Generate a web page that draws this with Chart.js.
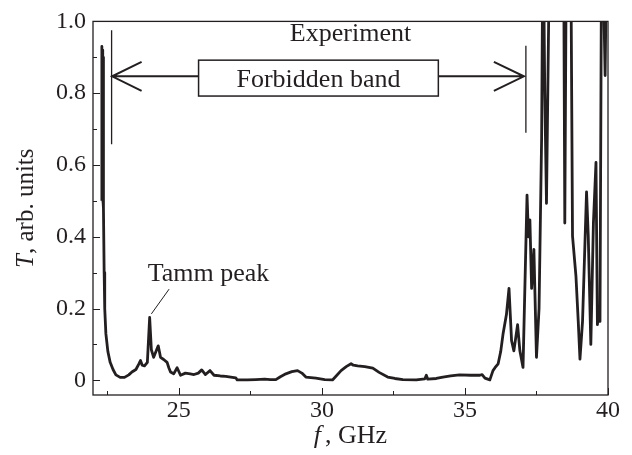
<!DOCTYPE html>
<html>
<head>
<meta charset="utf-8">
<script src="https://cdn.jsdelivr.net/npm/chart.js@4.4.1/dist/chart.umd.min.js"></script>
<style>
  html, body { margin: 0; padding: 0; background: #fff; }
  #wrap { width: 632px; height: 455px; }
</style>
</head>
<body>
<div id="wrap"><canvas id="spectrum" width="632" height="455"></canvas></div>
<script>
// Transmission spectrum: frequency (GHz) and transmission (arb. units)
const freqs = [
    22.30, 22.31, 22.33, 22.34, 22.35, 22.36, 22.37, 22.39, 22.41, 22.45,
    22.52, 22.60, 22.70, 22.80, 22.95, 23.10, 23.25, 23.36, 23.50, 23.60,
    23.66, 23.72, 23.80, 23.90, 23.98, 24.04, 24.12, 24.20, 24.28, 24.36,
    24.47, 24.59, 24.65, 24.71, 24.82, 24.94, 25.06, 25.23, 25.40, 25.53,
    25.68, 25.80, 25.93, 26.09, 26.23, 26.45, 26.64, 26.99, 27.04, 27.40,
    27.69, 28.00, 28.20, 28.39, 28.55, 28.74, 28.95, 29.15, 29.30, 29.44,
    29.79, 30.10, 30.37, 30.50, 30.67, 30.85, 31.02, 31.10, 31.25, 31.50,
    31.78, 32.00, 32.30, 32.55, 32.83, 33.30, 33.60, 33.65, 33.70, 34.00,
    34.23, 34.50, 34.81, 35.20, 35.52, 35.60, 35.70, 35.87, 35.98, 36.05,
    36.16, 36.25, 36.33, 36.45, 36.54, 36.63, 36.71, 36.84, 36.92, 37.03,
    37.17, 37.22, 37.27, 37.33, 37.41, 37.50, 37.59, 37.68, 37.73, 37.79,
    37.85, 37.97, 38.10, 38.30, 38.45, 38.49, 38.55, 38.64, 38.70, 38.76,
    38.88, 38.96, 39.02, 39.11, 39.25, 39.31, 39.40, 39.49, 39.58, 39.63,
    39.69, 39.72, 39.78, 39.84, 39.90, 39.95
];
const trans = [
    0.50, 0.93, 0.52, 0.92, 0.50, 0.90, 0.48, 0.30, 0.20, 0.13,
    0.080, 0.050, 0.030, 0.015, 0.008, 0.008, 0.015, 0.023, 0.030, 0.045,
    0.055, 0.042, 0.040, 0.050, 0.175, 0.085, 0.064, 0.080, 0.096, 0.064,
    0.058, 0.050, 0.035, 0.023, 0.018, 0.035, 0.014, 0.020, 0.018, 0.016,
    0.020, 0.029, 0.016, 0.027, 0.014, 0.012, 0.011, 0.007, 0.001, 0.001,
    0.002, 0.003, 0.002, 0.002, 0.010, 0.018, 0.024, 0.027, 0.020, 0.009,
    0.006, 0.002, 0.001, 0.012, 0.027, 0.038, 0.046, 0.042, 0.040, 0.038,
    0.034, 0.022, 0.009, 0.005, 0.002, 0.001, 0.004, 0.014, 0.003, 0.005,
    0.009, 0.012, 0.015, 0.014, 0.014, 0.016, 0.006, 0.001, 0.027, 0.035,
    0.046, 0.080, 0.128, 0.183, 0.256, 0.110, 0.082, 0.155, 0.082, 0.036,
    0.516, 0.400, 0.447, 0.256, 0.365, 0.064, 0.200, 0.676, 1.30, 0.800,
    0.493, 1.30, 1.50, 1.40, 1.20, 0.438, 1.30, 1.30, 1.20, 0.402,
    0.290, 0.164, 0.059, 0.164, 0.525, 0.402, 0.100, 0.438, 0.607, 0.155,
    0.200, 0.164, 1.30, 1.10, 0.849, 1.20
];

const xTicks = [25, 30, 35, 40];
const xMinor = [22.5, 27.5, 32.5, 37.5];
const yTicks = [0, 0.2, 0.4, 0.6, 0.8, 1.0];
const yMinor = [0.1, 0.3, 0.5, 0.7, 0.9];

const ink = '#231f20';
const serif = '"Liberation Serif", "Times New Roman", serif';

// frame, inward ticks, axis titles and the band annotation
const decorations = {
    id: 'decorations',
    afterDraw(chart) {
        const { ctx, chartArea: a, scales: { x, y } } = chart;
        ctx.save();
        ctx.strokeStyle = ink;
        ctx.fillStyle = ink;

        // frame
        ctx.lineWidth = 1.3;
        ctx.strokeRect(a.left, a.top, a.right - a.left, a.bottom - a.top);

        // ticks pointing into the plot
        ctx.lineWidth = 1;
        ctx.beginPath();
        xTicks.forEach(v => { const px = Math.round(x.getPixelForValue(v)) + 0.5; ctx.moveTo(px, a.bottom); ctx.lineTo(px, a.bottom - 7); });
        xMinor.forEach(v => { const px = Math.round(x.getPixelForValue(v)) + 0.5; ctx.moveTo(px, a.bottom); ctx.lineTo(px, a.bottom - 4); });
        yTicks.forEach(v => { const py = Math.round(y.getPixelForValue(v)) + 0.5; ctx.moveTo(a.left, py); ctx.lineTo(a.left + 7, py); });
        yMinor.forEach(v => { const py = Math.round(y.getPixelForValue(v)) + 0.5; ctx.moveTo(a.left, py); ctx.lineTo(a.left + 4, py); });
        ctx.stroke();

        // x title: italic f, then ", GHz"
        ctx.textBaseline = 'alphabetic';
        const xt1 = 'f', xt2 = ', GHz';
        ctx.font = 'italic 26px ' + serif;
        const w1 = ctx.measureText(xt1).width + 4;
        ctx.font = '26px ' + serif;
        const w2 = ctx.measureText(xt2).width;
        let sx = (a.left + a.right) / 2 - (w1 + w2) / 2;
        ctx.font = 'italic 26px ' + serif;
        ctx.fillText(xt1, sx, 443);
        ctx.font = '26px ' + serif;
        ctx.fillText(xt2, sx + w1, 443);

        // y title, rotated
        ctx.save();
        ctx.translate(33, (a.top + a.bottom) / 2);
        ctx.rotate(-Math.PI / 2);
        const yt1 = 'T', yt2 = ', arb. units';
        ctx.font = 'italic 25px ' + serif;
        const v1 = ctx.measureText(yt1).width;
        ctx.font = '25px ' + serif;
        const v2 = ctx.measureText(yt2).width;
        const sy = -(v1 + v2) / 2;
        ctx.font = 'italic 25px ' + serif;
        ctx.fillText(yt1, sy, 0);
        ctx.font = '25px ' + serif;
        ctx.fillText(yt2, sy + v1, 0);
        ctx.restore();

        // "Experiment"
        ctx.font = '26px ' + serif;
        ctx.textAlign = 'center';
        ctx.fillText('Experiment', x.getPixelForValue(31.0), y.getPixelForValue(0.945));

        // band edges
        ctx.lineWidth = 1.3;
        ctx.beginPath();
        const lx = x.getPixelForValue(22.65), rx = x.getPixelForValue(37.13);
        ctx.moveTo(lx, y.getPixelForValue(0.975)); ctx.lineTo(lx, y.getPixelForValue(0.658));
        ctx.moveTo(rx, y.getPixelForValue(0.932)); ctx.lineTo(rx, y.getPixelForValue(0.690));
        ctx.stroke();

        // double arrow with the labelled box in the middle
        const ay = y.getPixelForValue(0.847);
        const bx0 = x.getPixelForValue(25.69), bx1 = x.getPixelForValue(34.07);
        const by0 = y.getPixelForValue(0.892), by1 = y.getPixelForValue(0.792);
        ctx.lineWidth = 2;
        ctx.beginPath();
        ctx.moveTo(lx, ay); ctx.lineTo(bx0, ay);
        ctx.moveTo(bx1, ay); ctx.lineTo(rx - 2, ay);
        ctx.moveTo(lx + 30, ay - 14.5); ctx.lineTo(lx + 0.5, ay); ctx.lineTo(lx + 30, ay + 14.5);
        ctx.moveTo(rx - 32, ay - 14.5); ctx.lineTo(rx - 2, ay); ctx.lineTo(rx - 32, ay + 14.5);
        ctx.stroke();
        ctx.lineWidth = 1.5;
        ctx.strokeRect(bx0, by0, bx1 - bx0, by1 - by0);
        ctx.font = '26px ' + serif;
        ctx.textBaseline = 'alphabetic';
        ctx.fillText('Forbidden band', (bx0 + bx1) / 2, by1 - 9);

        // Tamm peak label and pointer
        ctx.textAlign = 'left';
        ctx.fillText('Tamm peak', x.getPixelForValue(23.91), y.getPixelForValue(0.278));
        ctx.lineWidth = 1;
        ctx.beginPath();
        ctx.moveTo(x.getPixelForValue(24.66), y.getPixelForValue(0.254));
        ctx.lineTo(x.getPixelForValue(24.04), y.getPixelForValue(0.185));
        ctx.stroke();

        ctx.restore();
    }
};

new Chart(document.getElementById('spectrum'), {
    type: 'line',
    data: {
        datasets: [{
            data: freqs.map((f, i) => ({ x: f, y: trans[i] })),
            borderColor: ink,
            borderWidth: 2.8,
            borderJoinStyle: 'round',
            pointRadius: 0,
            tension: 0
        }]
    },
    options: {
        responsive: false,
        devicePixelRatio: 1,
        animation: false,
        layout: { padding: { top: 15, right: 24, left: 0, bottom: 0 } },
        plugins: { legend: { display: false }, tooltip: { enabled: false } },
        scales: {
            x: {
                type: 'linear',
                min: 22,
                max: 40,
                afterFit: s => { s.height = 60; },
                afterBuildTicks: s => { s.ticks = xTicks.map(v => ({ value: v })); },
                grid: { display: false, drawTicks: false },
                border: { display: false },
                ticks: {
                    padding: 1,
                    color: ink,
                    font: { family: serif, size: 24 },
                    callback: v => String(v)
                }
            },
            y: {
                type: 'linear',
                min: -0.041,
                max: 1.0,
                afterFit: s => { s.width = 93; },
                afterBuildTicks: s => { s.ticks = yTicks.map(v => ({ value: v })); },
                grid: { display: false, drawTicks: false },
                border: { display: false },
                ticks: {
                    padding: 7,
                    color: ink,
                    font: { family: serif, size: 24 },
                    callback: v => (v === 0 ? '0' : v.toFixed(1))
                }
            }
        }
    },
    plugins: [decorations]
});
</script>
</body>
</html>
